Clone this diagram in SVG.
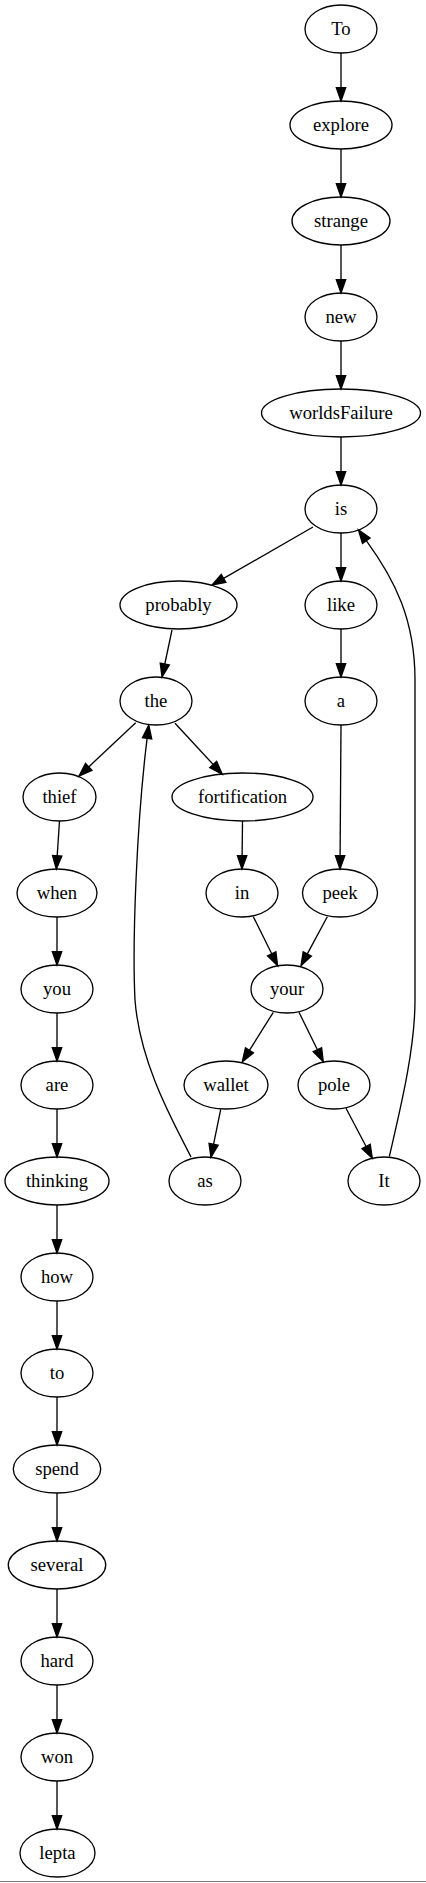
<svg xmlns="http://www.w3.org/2000/svg" width="426" height="1883" viewBox="0 0 426 1883">
<style>
.node ellipse{fill:none;stroke:#000;stroke-width:1.33}
.node text{font-family:"Liberation Serif","Times New Roman",serif;font-size:18.67px;text-anchor:middle;fill:#000}
#edges path{fill:none;stroke:#000;stroke-width:1.33;marker-end:url(#arrow)}
</style>
<defs>
<marker id="arrow" markerUnits="userSpaceOnUse" markerWidth="16" markerHeight="12" refX="0" refY="0" viewBox="0 -6 16 12" orient="auto" overflow="visible">
<path d="M0,-4.67 L13.33,0 L0,4.67 Z" fill="#000" stroke="#000" stroke-width="1.33"/>
</marker>
</defs>
<rect x="0" y="0" width="426" height="1883" fill="#fff"/>
<g id="edges">
<path d="M341,53 L341,87.67"/>
<path d="M341,149 L341,183.67"/>
<path d="M341,245 L341,279.67"/>
<path d="M341,341 L341,375.67"/>
<path d="M341,437 L341,471.67"/>
<path d="M313,527 L223.6,578.4"/>
<path d="M341,533 L341,567.67"/>
<path d="M172,630 L164.8,664"/>
<path d="M341,629 L341,663.67"/>
<path d="M135.7,722.7 L88.7,766.9"/>
<path d="M175,723.3 L213.2,764.5"/>
<path d="M341,725 L340.1,855.67"/>
<path d="M59.5,821 L57.2,855.67"/>
<path d="M242.5,821 L242.1,855.67"/>
<path d="M57,917 L57,951.67"/>
<path d="M253.3,916.7 L271.7,953.8"/>
<path d="M327.3,916.7 L307.3,953.9"/>
<path d="M57,1013 L57,1047.67"/>
<path d="M273.3,1012.3 L249.4,1050.4"/>
<path d="M299,1012.3 L317.4,1049.7"/>
<path d="M57,1109 L57,1143.67"/>
<path d="M220.7,1109.3 L213.6,1144.2"/>
<path d="M346,1108.3 L366.1,1146.5"/>
<path d="M191,1157 C175,1125 140,1065 135,1000 C132,940 137,820 147.1,738.3"/>
<path d="M389.3,1156.7 C400,1110 415,1050 415,1000 L415,680 C415,620 395,580 366.3,540.7"/>
<path d="M57,1205 L57,1239.67"/>
<path d="M57,1301 L57,1335.67"/>
<path d="M57,1397 L57,1431.67"/>
<path d="M57,1493 L57,1527.67"/>
<path d="M57,1589 L57,1623.67"/>
<path d="M57,1685 L57,1719.67"/>
<path d="M57,1781 L57,1815.67"/>
</g>
<g id="n_To" class="node"><ellipse cx="341" cy="29" rx="36" ry="24"/><text x="341" y="34.5">To</text></g>
<g id="n_explore" class="node"><ellipse cx="341" cy="125" rx="51" ry="24"/><text x="341" y="130.5">explore</text></g>
<g id="n_strange" class="node"><ellipse cx="341" cy="221" rx="49" ry="24"/><text x="341" y="226.5">strange</text></g>
<g id="n_new" class="node"><ellipse cx="341" cy="317" rx="36" ry="24"/><text x="341" y="322.5">new</text></g>
<g id="n_worldsFailure" class="node"><ellipse cx="341" cy="413" rx="79.5" ry="24"/><text x="341" y="418.5">worldsFailure</text></g>
<g id="n_is" class="node"><ellipse cx="341" cy="509" rx="36" ry="24"/><text x="341" y="514.5">is</text></g>
<g id="n_probably" class="node"><ellipse cx="178.5" cy="605" rx="58.5" ry="24"/><text x="178.5" y="610.5">probably</text></g>
<g id="n_like" class="node"><ellipse cx="341" cy="605" rx="36" ry="24"/><text x="341" y="610.5">like</text></g>
<g id="n_the" class="node"><ellipse cx="156" cy="701" rx="36" ry="24"/><text x="156" y="706.5">the</text></g>
<g id="n_a" class="node"><ellipse cx="341" cy="701" rx="36" ry="24"/><text x="341" y="706.5">a</text></g>
<g id="n_thief" class="node"><ellipse cx="59.5" cy="797" rx="36.5" ry="24"/><text x="59.5" y="802.5">thief</text></g>
<g id="n_fortification" class="node"><ellipse cx="242.5" cy="797" rx="70.5" ry="24"/><text x="242.5" y="802.5">fortification</text></g>
<g id="n_when" class="node"><ellipse cx="57" cy="893" rx="40" ry="24"/><text x="57" y="898.5">when</text></g>
<g id="n_in" class="node"><ellipse cx="242" cy="893" rx="36" ry="24"/><text x="242" y="898.5">in</text></g>
<g id="n_peek" class="node"><ellipse cx="340" cy="893" rx="37.5" ry="24"/><text x="340" y="898.5">peek</text></g>
<g id="n_you" class="node"><ellipse cx="57" cy="989" rx="36" ry="24"/><text x="57" y="994.5">you</text></g>
<g id="n_your" class="node"><ellipse cx="287" cy="989" rx="36" ry="24"/><text x="287" y="994.5">your</text></g>
<g id="n_are" class="node"><ellipse cx="57" cy="1085" rx="36" ry="24"/><text x="57" y="1090.5">are</text></g>
<g id="n_wallet" class="node"><ellipse cx="226" cy="1085" rx="42" ry="24"/><text x="226" y="1090.5">wallet</text></g>
<g id="n_pole" class="node"><ellipse cx="334" cy="1085" rx="36" ry="24"/><text x="334" y="1090.5">pole</text></g>
<g id="n_thinking" class="node"><ellipse cx="57" cy="1181" rx="52" ry="24"/><text x="57" y="1186.5">thinking</text></g>
<g id="n_as" class="node"><ellipse cx="205" cy="1181" rx="36" ry="24"/><text x="205" y="1186.5">as</text></g>
<g id="n_It" class="node"><ellipse cx="384" cy="1181" rx="36" ry="24"/><text x="384" y="1186.5">It</text></g>
<g id="n_how" class="node"><ellipse cx="57" cy="1277" rx="36" ry="24"/><text x="57" y="1282.5">how</text></g>
<g id="n_to" class="node"><ellipse cx="57" cy="1373" rx="36" ry="24"/><text x="57" y="1378.5">to</text></g>
<g id="n_spend" class="node"><ellipse cx="57" cy="1469" rx="43.7" ry="24"/><text x="57" y="1474.5">spend</text></g>
<g id="n_several" class="node"><ellipse cx="57" cy="1565" rx="48.7" ry="24"/><text x="57" y="1570.5">several</text></g>
<g id="n_hard" class="node"><ellipse cx="57" cy="1661" rx="36" ry="24"/><text x="57" y="1666.5">hard</text></g>
<g id="n_won" class="node"><ellipse cx="57" cy="1757" rx="36" ry="24"/><text x="57" y="1762.5">won</text></g>
<g id="n_lepta" class="node"><ellipse cx="57.5" cy="1853" rx="37.5" ry="24"/><text x="57.5" y="1858.5">lepta</text></g>
<line x1="0" y1="1881.5" x2="426" y2="1881.5" stroke="#7a7a7a" stroke-width="1"/>
</svg>
